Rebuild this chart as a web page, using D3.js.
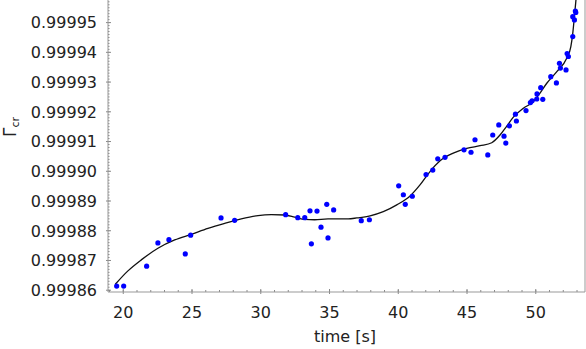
<!DOCTYPE html>
<html>
<head>
    <meta charset="utf-8">
    <title>Gamma_cr vs time</title>
    <style>
        body { margin: 0; background: #fff; }
        text { font-family: "DejaVu Sans", sans-serif; fill: #222; }
        g.axis path, g.axis line { stroke: #888; }
        path.fit { fill: none; stroke: #111; stroke-width: 1.3; }
        circle.obs { fill: #0000ff; }
    </style>
</head>
<body>
<div id="target"></div>

<script src="https://cdnjs.cloudflare.com/ajax/libs/d3/7.8.5/d3.min.js"></script>
<script>
    // measured points: time [s]
    var obsTime = [19.52, 20.03, 21.70, 22.52, 23.32, 24.51, 24.90, 27.11, 28.10, 31.81,
        32.69, 33.20, 33.58, 33.68, 34.09, 34.38, 34.80, 34.89, 35.30, 37.31,
        37.90, 40.03, 40.37, 40.51, 41.02, 42.02, 42.51, 42.87, 43.40, 44.78,
        45.29, 45.58, 46.51, 46.87, 47.31, 47.69, 47.82, 48.08, 48.52, 48.59,
        49.29, 49.61, 49.73, 50.07, 50.09, 50.36, 50.51, 51.09, 51.50, 51.72,
        51.79, 52.20, 52.28, 52.37, 52.69, 52.69, 52.81, 52.88, 52.91];
    // measured points: Gamma_cr
    var obsGamma = [0.9998614, 0.9998614, 0.9998681, 0.9998759, 0.9998770, 0.9998722, 0.9998785, 0.9998843, 0.9998835, 0.9998854,
        0.9998844, 0.9998844, 0.9998867, 0.9998756, 0.9998866, 0.9998812, 0.9998889, 0.9998776, 0.9998870, 0.9998834,
        0.9998837, 0.9998951, 0.9998921, 0.9998889, 0.9998916, 0.9998989, 0.9999004, 0.9999042, 0.9999047, 0.9999072,
        0.9999064, 0.9999106, 0.9999055, 0.9999122, 0.9999156, 0.9999118, 0.9999095, 0.9999153, 0.9999192, 0.9999169,
        0.9999204, 0.9999231, 0.9999237, 0.9999243, 0.9999260, 0.9999281, 0.9999242, 0.9999318, 0.9999297, 0.9999363,
        0.9999347, 0.9999341, 0.9999396, 0.9999386, 0.9999453, 0.9999520, 0.9999509, 0.9999539, 0.9999534];

    // fitted curve
    var fitTime = [19.42, 20.34, 21.31, 22.52, 23.74, 24.95, 26.16, 27.38, 28.58, 29.80,
        30.77, 31.74, 32.47, 33.20, 33.92, 34.89, 36.35, 36.98, 37.95, 38.91,
        39.89, 40.86, 41.58, 42.31, 43.04, 44.00, 44.98, 45.95, 46.80, 47.40,
        47.89, 48.37, 49.10, 49.82, 50.31, 50.80, 51.53, 52.25, 52.55, 52.69,
        52.81, 52.93];
    var fitGamma = [0.9998620, 0.9998665, 0.9998702, 0.9998741, 0.9998769, 0.9998788, 0.9998808, 0.9998825, 0.9998840, 0.9998851,
        0.9998854, 0.9998853, 0.9998846, 0.9998838, 0.9998837, 0.9998840, 0.9998840, 0.9998843, 0.9998850, 0.9998864,
        0.9998887, 0.9998917, 0.9998954, 0.9998999, 0.9999035, 0.9999061, 0.9999077, 0.9999086, 0.9999096, 0.9999122,
        0.9999152, 0.9999182, 0.9999212, 0.9999234, 0.9999263, 0.9999296, 0.9999335, 0.9999380, 0.9999419, 0.9999464,
        0.9999520, 0.9999580];

    var xTicks = [20, 25, 30, 35, 40, 45, 50];
    var yTicks = [0.99986, 0.99987, 0.99988, 0.99989, 0.99990, 0.99991, 0.99992, 0.99993, 0.99994, 0.99995];

    var width = 586, height = 349;
    var plotL = 108, plotR = 585, plotT = 0, plotB = 292;

    var svg = d3.select('#target').append('svg')
        .attr('width', width)
        .attr('height', height);

    var x = d3.scaleLinear().domain([18.89, 53.58]).range([plotL, plotR]);
    var y = d3.scaleLinear().domain([0.9998594, 0.9999576]).range([plotB, plotT]);

    // minor ticks (every 1 s, every 1e-6)
    var xMinor = d3.range(19, 54);
    var yMinor = d3.range(0, 98).map(function (i) { return 0.99986 + i * 1e-6; });

    var gx = svg.append('g').attr('class', 'axis');
    gx.selectAll('line.minor').data(xMinor).enter().append('line')
        .attr('x1', function (d) { return x(d); }).attr('x2', function (d) { return x(d); })
        .attr('y1', plotB).attr('y2', plotB - 2);
    gx.selectAll('line.major').data(xTicks).enter().append('line')
        .attr('x1', function (d) { return x(d); }).attr('x2', function (d) { return x(d); })
        .attr('y1', plotB + 2).attr('y2', plotB - 3);
    gx.selectAll('text').data(xTicks).enter().append('text')
        .attr('x', function (d) { return x(d); })
        .attr('y', plotB + 26)
        .attr('text-anchor', 'middle')
        .style('font-size', '16px')
        .text(function (d) { return d; });

    var gy = svg.append('g').attr('class', 'axis');
    gy.selectAll('line.minor').data(yMinor).enter().append('line')
        .attr('y1', function (d) { return y(d); }).attr('y2', function (d) { return y(d); })
        .attr('x1', plotL).attr('x2', plotL + 1.5);
    gy.selectAll('line.major').data(yTicks).enter().append('line')
        .attr('y1', function (d) { return y(d); }).attr('y2', function (d) { return y(d); })
        .attr('x1', plotL - 2).attr('x2', plotL + 3);
    gy.selectAll('text').data(yTicks).enter().append('text')
        .attr('x', plotL - 11)
        .attr('y', function (d) { return y(d); })
        .attr('dy', '0.36em')
        .attr('text-anchor', 'end')
        .style('font-size', '16px')
        .text(d3.format('.5f'));

    // frame lines
    svg.append('path')
        .attr('d', 'M' + plotL + ',' + plotT + ' L' + plotL + ',' + plotB + ' L' + plotR + ',' + plotB + ' L' + plotR + ',' + plotT)
        .attr('fill', 'none')
        .attr('stroke', '#999');

    svg.append('clipPath').attr('id', 'plot')
        .append('rect')
        .attr('x', plotL).attr('y', plotT)
        .attr('width', plotR - plotL).attr('height', plotB - plotT);

    var fit = fitTime.map(function (t, i) { return [t, fitGamma[i]]; });
    var line = d3.line()
        .x(function (d) { return x(d[0]); })
        .y(function (d) { return y(d[1]); })
        .curve(d3.curveMonotoneX);

    svg.append('path')
        .datum(fit)
        .attr('class', 'fit')
        .attr('clip-path', 'url(#plot)')
        .attr('d', line);

    svg.append('g')
        .selectAll('circle')
        .data(obsTime)
        .enter()
        .append('circle')
        .attr('class', 'obs')
        .attr('cx', function (t) { return x(t); })
        .attr('cy', function (t, i) { return y(obsGamma[i]); })
        .attr('r', 2.6);

    // axis titles
    svg.append('text')
        .attr('x', 345)
        .attr('y', 342)
        .attr('text-anchor', 'middle')
        .style('font-size', '16px')
        .text('time [s]');

    var yTitle = svg.append('text')
        .attr('transform', 'translate(15.5,127) rotate(-90)')
        .attr('text-anchor', 'middle')
        .style('font-size', '17px');
    yTitle.append('tspan').text('Γ');
    yTitle.append('tspan').attr('dy', 3).style('font-size', '11px').text('cr');
</script>
</body>
</html>
